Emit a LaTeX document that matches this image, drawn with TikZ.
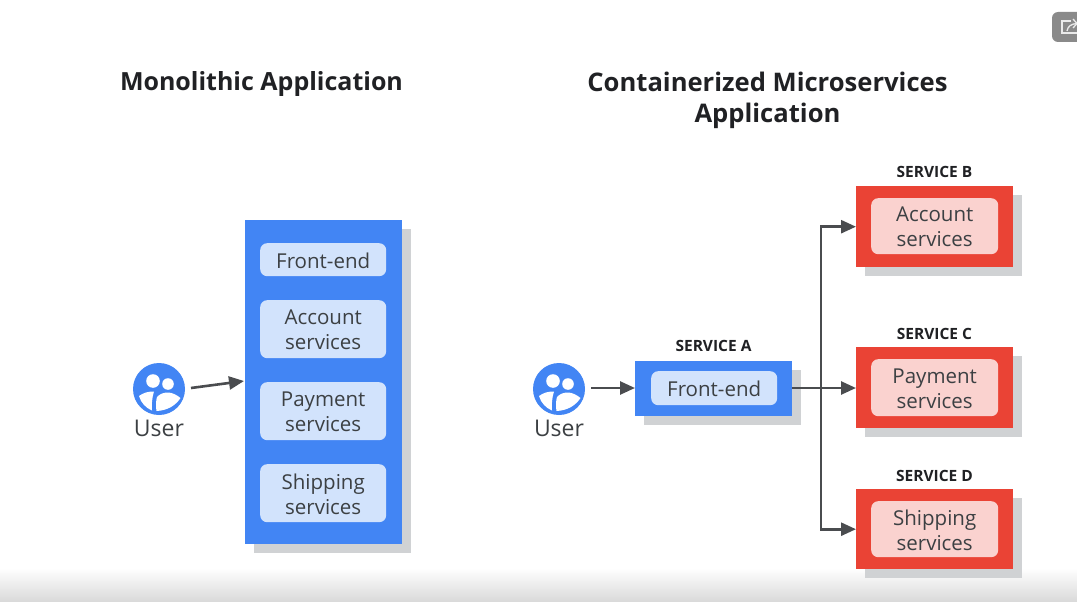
\documentclass[tikz,border=0pt]{standalone}
\usepackage{fontspec}
\setmainfont{Open Sans}
\usetikzlibrary{arrows.meta,calc}
\definecolor{gblue}{HTML}{4285F4}
\definecolor{gred}{HTML}{EA4335}
\definecolor{lblue}{HTML}{D2E3FC}
\definecolor{lred}{HTML}{FAD2CF}
\definecolor{boxshadow}{HTML}{D0D2D4}
\definecolor{ink}{HTML}{202124}
\definecolor{txt}{HTML}{3C4043}
\definecolor{wire}{HTML}{4A4C4F}
\tikzset{
 x=1pt,y=-1pt,
 title/.style={font=\fontsize{25}{31.5}\selectfont\bfseries,text=ink,align=center,inner sep=0},
 tag/.style={font=\fontsize{15.5}{17}\selectfont\bfseries,text=ink,inner sep=0},
 lab/.style={font=\fontsize{20.5}{25}\selectfont,text=txt,align=center,inner sep=0},
 usertxt/.style={font=\fontsize{23}{26}\selectfont,text=txt,inner sep=0},
 inbox/.style={rounded corners=7pt,fill=#1,draw=none,inner sep=0},
 wirearrow/.style={draw=wire,line width=2.6pt,-{Triangle[length=15pt,width=13pt]}},
}
\newcommand{\outerbox}[6]{%
 \fill[boxshadow] (#2+8.5,#3+8.5) rectangle (#4+8.5,#5+8.5);
 \node[fill=#6,minimum width=#4pt-#2pt,minimum height=#5pt-#3pt,inner sep=0,anchor=north west] (#1) at (#2,#3) {};
}
\newcommand{\innerbox}[7]{%
 \node[inbox=#6,minimum width=#4pt-#2pt,minimum height=#5pt-#3pt,anchor=north west,
   label={[lab,yshift=-0.8pt]center:{#7}}] (#1) at (#2,#3) {};
}
\newcommand{\usericon}[3]{%
 \node[circle,fill=gblue,minimum size=52pt,inner sep=0] (#1) at (#2,#3) {};
 \begin{scope}[shift={(#2,#3)}]
  \fill[white] (-6,-8) circle (6.8);
  \fill[white] (9,-5) circle (5.8);
  \fill[white] (-20,7) .. controls (-15,3.5) and (-11,2.5) .. (-5,2.5) .. controls (-7,9) and (-7.5,15) .. (-7,21.5) .. controls (-13,19) and (-18,14) .. cycle;
  \fill[white] (-2,8) .. controls (1,5) and (4,3.5) .. (9,3.5) .. controls (13,3.5) and (18,6) .. (21.5,9) .. controls (17,16) and (9,21.5) .. (-2.5,22) .. controls (-3.5,16) and (-3,12) .. cycle;
 \end{scope}
 \node[usertxt,anchor=base] (#1t) at (#2,#3+47) {User};
}
\begin{document}
\begin{tikzpicture}
\useasboundingbox (0,0) rectangle (1077,602);
\fill[white] (0,0) rectangle (1077,602);
\shade[top color=white,bottom color=black!15] (0,568) rectangle (1077,602);

\node[title] (t1) at (261.5,84.5) {Monolithic Application};
\node[title,font=\fontsize{25.6}{31.5}\selectfont\bfseries] (t2) at (767.5,100.5) {Containerized Microservices\\Application};

\outerbox{mono}{245}{220}{402}{544}{gblue}
\innerbox{mf}{260}{243}{386}{276}{lblue}{Front-end}
\innerbox{ma}{260}{300}{386}{358}{lblue}{Account\\services}
\innerbox{mp}{260}{382}{386}{440}{lblue}{Payment\\services}
\innerbox{ms}{260}{464}{386}{522}{lblue}{Shipping\\services}

\usericon{ul}{159}{389}
\usericon{ur}{559}{389}

\outerbox{sa}{635}{361}{792}{416}{gblue}
\innerbox{af}{651}{371}{777}{405}{lblue}{Front-end}
\node[tag] (la) at (713.5,345.5) {SERVICE A};

\outerbox{sb}{856}{186}{1013}{267}{gred}
\innerbox{ba}{871}{198}{998}{254}{lred}{Account\\services}
\node[tag] (lb) at (934.5,172) {SERVICE B};

\outerbox{sc}{856}{347}{1013}{428}{gred}
\innerbox{cp}{871}{359}{998}{416}{lred}{Payment\\services}
\node[tag] (lc) at (934.5,333.5) {SERVICE C};

\outerbox{sd}{856}{489}{1013}{569}{gred}
\innerbox{ds}{871}{501}{998}{557}{lred}{Shipping\\services}
\node[tag] (ld) at (934.5,475.5) {SERVICE D};

\coordinate (ulout) at (191,388);
\coordinate (monoin) at (244,381);
\draw[wirearrow] (ulout) -- (monoin);
\coordinate (urout) at ($(ur.east)+(6,-1)$);
\draw[wirearrow] (urout) -- (urout -| sa.west);
\coordinate (trunk) at (821,388);
\coordinate (aout) at (792,388);
\draw[wirearrow] (aout) -- (aout -| sc.west);
\draw[wirearrow,line join=miter] (trunk) |- (sb.west);
\draw[wirearrow,line join=miter] (trunk) |- (sd.west);

\fill[black!46,rounded corners=6pt] (1052,12) rectangle (1090,42);
\draw[white!92!black,line width=1.3pt] (1071,21) -- (1062,21) -- (1062,33) -- (1077,33);
\draw[white!92!black,line width=1.3pt] (1067,31) .. controls (1068,26) and (1071,24) .. (1077,23.5);
\draw[white!92!black,line width=1.3pt] (1073,19) -- (1077,23.5) -- (1073,28);
\end{tikzpicture}
\end{document}
